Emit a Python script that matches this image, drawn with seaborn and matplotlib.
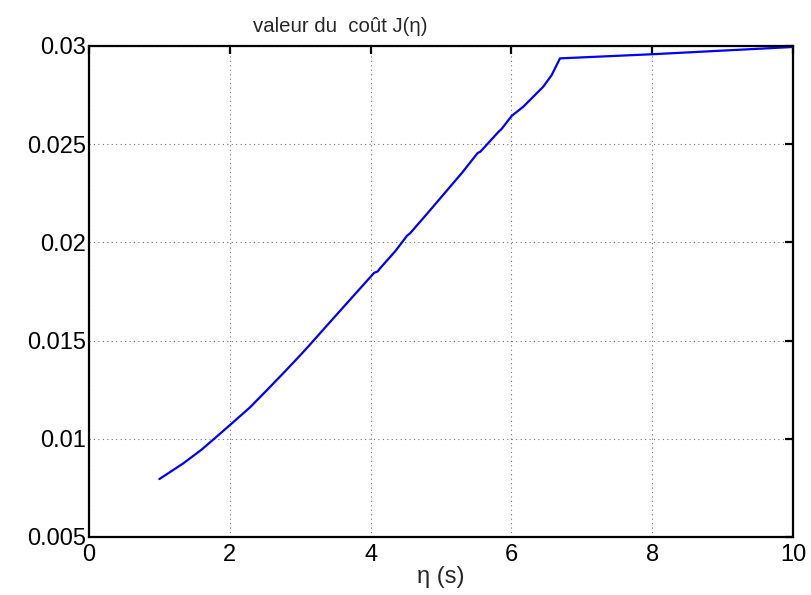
import numpy as np
import pandas as pd
import matplotlib
matplotlib.use("Agg")
import matplotlib.pyplot as plt
import seaborn as sns

# data
eta = [1.0, 1.34, 1.6, 1.814, 2.05, 2.287, 2.52, 2.76, 3.0, 3.115, 3.4, 3.6, 3.8,
       4.05, 4.10, 4.134, 4.35, 4.52, 4.56, 4.8, 5.05, 5.3, 5.52, 5.56, 5.814,
       5.862, 6.004, 6.169, 6.311, 6.453, 6.572, 6.69, 8.0, 10.0]
cost = [0.00795, 0.00875, 0.00945, 0.01011, 0.01085, 0.01160, 0.01245, 0.01334,
        0.01425, 0.01470, 0.01585, 0.01665, 0.01745, 0.01845, 0.01852, 0.01868,
        0.01955, 0.02035, 0.02046, 0.02145, 0.02250, 0.02355, 0.02455, 0.02462,
        0.02562, 0.02578, 0.02644, 0.02691, 0.02742, 0.02793, 0.02852, 0.02937,
        0.02958, 0.02995]

xticks = [0, 2, 4, 6, 8, 10]
yticks = [0.005, 0.01, 0.015, 0.02, 0.025, 0.03]
ytick_labels = ["0.005", "0.01", "0.015", "0.02", "0.025", "0.03"]

sns.set_style("white")
plt.rcParams['font.family'] = ['Liberation Sans', 'DejaVu Sans']

df = pd.DataFrame({"eta": eta, "cost": cost})

fig = plt.figure(figsize=(8.11, 5.95), dpi=100)
ax = fig.add_axes([0.1097, 0.0975, 0.8681, 0.8252])

sns.lineplot(data=df, x="eta", y="cost", ax=ax, color=(0, 0, 1), linewidth=1.6,
             estimator=None, sort=False)

ax.set_xlim(0, 10)
ax.set_ylim(0.005, 0.03)
ax.set_xticks(xticks)
ax.set_xticklabels([str(t) for t in xticks])
ax.set_yticks(yticks)
ax.set_yticklabels(ytick_labels)

ax.grid(True, linestyle=(0, (1, 3)), color="0.45", linewidth=0.8)
for s in ax.spines.values():
    s.set_visible(True)
    s.set_color("black")
    s.set_linewidth(1.6)

ax.tick_params(direction="in", length=6, width=1.6, colors="black",
               top=True, right=True, labelsize=17)
ax.tick_params(axis="y", pad=2)
ax.tick_params(axis="x", pad=5)

ax.set_title("valeur du  coût J(η)", fontsize=14.7, pad=10, x=0.357)
ax.set_xlabel("η (s)", fontsize=17, labelpad=0)
ax.set_ylabel("")

fig.savefig("out.png", dpi=100, facecolor="white")
